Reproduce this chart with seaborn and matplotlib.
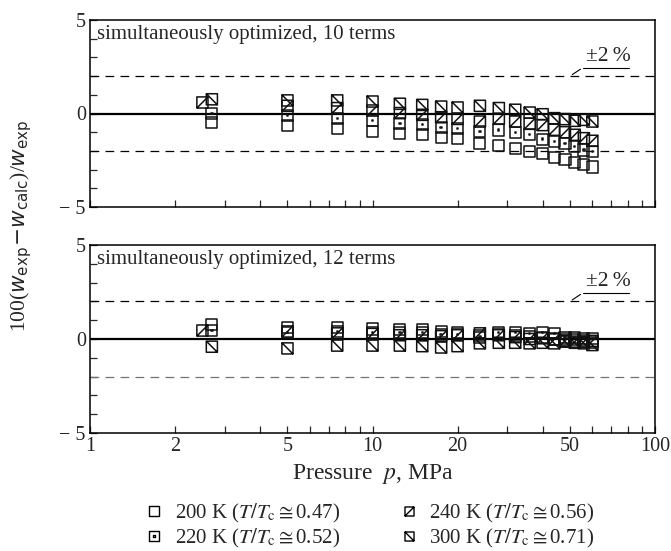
import numpy as np
import pandas as pd
import matplotlib
matplotlib.use("Agg")
import matplotlib.pyplot as plt
import seaborn as sns
from matplotlib.path import Path
from matplotlib.lines import Line2D
from matplotlib.ticker import FixedLocator, NullFormatter, FixedFormatter

# ---------------- data ----------------
temps = ["200 K", "220 K", "240 K", "300 K"]
tr_ratio = ["0.47", "0.52", "0.56", "0.71"]
p_start = [2.7, 2.7, 2.5, 2.7]
p_common = [5, 7.5, 10, 12.5, 15, 17.5, 20, 24, 28, 32, 36, 40, 44, 48, 52, 56, 60]

# simultaneously optimized, 10 terms
dev10_200 = [-0.50, -0.66, -0.80, -0.96, -1.09, -1.14, -1.27, -1.36, -1.59, -1.72, -1.88, -2.03, -2.16, -2.34, -2.46, -2.60, -2.72, -2.86]
dev10_220 = [0.00, -0.10, -0.25, -0.37, -0.52, -0.60, -0.75, -0.80, -0.96, -0.88, -1.00, -1.14, -1.37, -1.50, -1.59, -1.77, -1.95, -2.04]
dev10_240 = [0.59, 0.41, 0.29, 0.16, 0.02, -0.07, -0.20, -0.29, -0.43, -0.28, -0.43, -0.55, -0.62, -0.87, -1.00, -1.14, -1.32, -1.46]
dev10_300 = [0.76, 0.70, 0.70, 0.64, 0.52, 0.46, 0.37, 0.32, 0.41, 0.29, 0.20, 0.05, -0.04, -0.25, -0.30, -0.39, -0.34, -0.43]

# simultaneously optimized, 12 terms
dev12_200 = [0.75, 0.62, 0.60, 0.53, 0.50, 0.50, 0.40, 0.35, 0.20, 0.25, 0.20, 0.15, 0.10, 0.00, -0.05, -0.05, -0.10, -0.20]
dev12_220 = [0.45, 0.35, 0.40, 0.35, 0.35, 0.35, 0.25, 0.25, 0.10, 0.34, 0.36, 0.30, 0.34, 0.30, 0.09, 0.09, 0.04, 0.04]
dev12_240 = [0.45, 0.40, 0.30, 0.27, 0.20, 0.20, 0.15, 0.20, 0.30, 0.20, 0.10, 0.00, 0.04, -0.02, -0.10, -0.14, -0.15, -0.10]
dev12_300 = [-0.41, -0.50, -0.35, -0.35, -0.35, -0.38, -0.45, -0.38, -0.23, -0.20, -0.20, -0.23, -0.20, -0.23, -0.14, -0.20, -0.23, -0.32]

panel_titles = ["simultaneously optimized, 10 terms", "simultaneously optimized, 12 terms"]
xtick_major = [1, 2, 5, 10, 20, 50, 100]
xtick_minor = [3, 4, 6, 7, 8, 9, 30, 40, 60, 70, 80, 90]
ytick_labels = ["\u2212 5", "0", "5"]


def build(devs):
    rows = []
    for t, ps, d in zip(temps, p_start, devs):
        for p, v in zip([ps] + p_common, d):
            rows.append({"T": t, "p": p, "dev": v})
    return pd.DataFrame(rows)


df10 = build([dev10_200, dev10_220, dev10_240, dev10_300])
df12 = build([dev12_200, dev12_220, dev12_240, dev12_300])

# ---------------- marker shapes ----------------
sq = [(-1, -1), (1, -1), (1, 1), (-1, 1), (-1, -1)]
sq_codes = [Path.MOVETO, Path.LINETO, Path.LINETO, Path.LINETO, Path.CLOSEPOLY]
m_open = Path(sq, sq_codes)
d = 0.12
m_dot = Path(sq + [(-d, -d), (d, -d), (d, d), (-d, d), (-d, -d)], sq_codes * 2)
m_slash = Path(sq + [(-1, -1), (1, 1)], sq_codes + [Path.MOVETO, Path.LINETO])
m_back = Path(sq + [(-1, 1), (1, -1)], sq_codes + [Path.MOVETO, Path.LINETO])
markers = [m_open, m_dot, m_slash, m_back]

# ---------------- style ----------------
sns.set_style("ticks")
plt.rcParams["font.family"] = ["Liberation Serif", "DejaVu Serif"]
plt.rcParams["mathtext.fontset"] = "stix"

fig = plt.figure(figsize=(6.71, 5.51), dpi=100)
ax_top = fig.add_axes([90 / 671, 1 - 207 / 551, 565 / 671, 187 / 551])
ax_bot = fig.add_axes([90 / 671, 1 - 433 / 551, 565 / 671, 188 / 551])

for i, (ax, df) in enumerate([(ax_top, df10), (ax_bot, df12)]):
    for t, mk in zip(temps, markers):
        sns.scatterplot(data=df[df["T"] == t], x="p", y="dev", marker=mk, s=64,
                        facecolor="none", edgecolor="#111111", linewidth=1.1,
                        ax=ax, legend=False, zorder=3)
    ax.set_xscale("log")
    ax.set_xlim(1, 100)
    ax.set_ylim(-5, 5)
    ax.axhline(0, color="black", lw=1.6, zorder=2)
    ax.axhline(2, color="black", lw=0.9, ls=(0, (7, 5)), zorder=1)
    ax.axhline(-2, color="black" if i == 0 else "0.45", lw=0.9, ls=(0, (7, 5)), zorder=1)
    ax.xaxis.set_major_locator(FixedLocator(xtick_major))
    ax.xaxis.set_minor_locator(FixedLocator(xtick_minor))
    ax.xaxis.set_minor_formatter(NullFormatter())
    if i == 1:
        ax.xaxis.set_major_formatter(FixedFormatter([str(v) for v in xtick_major]))
    else:
        ax.xaxis.set_major_formatter(NullFormatter())
    ax.yaxis.set_major_locator(FixedLocator([-5, 0, 5]))
    ax.yaxis.set_major_formatter(FixedFormatter(ytick_labels))
    ax.yaxis.set_minor_locator(FixedLocator([-4, -3, -2, -1, 1, 2, 3, 4]))
    ax.tick_params(which="both", direction="in", length=5, width=0.9, labelsize=14.5,
                   top=False, right=False, pad=3)
    for sp in ax.spines.values():
        sp.set_linewidth(1.1)
        sp.set_color("black")
    ax.set_xlabel("")
    ax.set_ylabel("")
    ax.text(0.012, 4.22, panel_titles[i], transform=ax.get_yaxis_transform(),
            fontsize=15, va="center", ha="left")
    # +-2 % label with leader line
    ax.annotate("", xy=(50, 2.0), xytext=(55.5, 2.45),
                arrowprops=dict(arrowstyle="-", lw=0.8, color="black"))
    ax.plot([55.5, 81], [2.45, 2.45], color="black", lw=0.8)
    ax.text(57, 2.55, "\u00b12\u2009%", fontsize=15.5, ha="left", va="bottom")

ax_bot.set_xlabel("Pressure  $p$, MPa", fontsize=17, labelpad=4)
fig.text(0.032, 1 - 226 / 551,
         "100(" + r"$w_{\mathrm{exp}}\!-\!w_{\mathrm{calc}}$" + ")/" + r"$w_{\mathrm{exp}}$",
         rotation=90, fontsize=15.5, ha="center", va="center", math_fontfamily="dejavusans")

handles = [Line2D([], [], marker=mk, ls="none", mfc="none", mec="black", ms=6.5, mew=1.0)
           for mk in markers]
labels = [f"{t} ($T/T_{{\\rm c}}\\cong${r})" for t, r in zip(temps, tr_ratio)]
fig.legend(handles, labels, ncol=2, frameon=False, loc="center",
           bbox_to_anchor=(370 / 671, 1 - 526 / 551), fontsize=15,
           handlelength=0.8, handletextpad=0.6, columnspacing=2.9, labelspacing=0.08,
           borderpad=0.2)

fig.savefig("out.png", dpi=100)
